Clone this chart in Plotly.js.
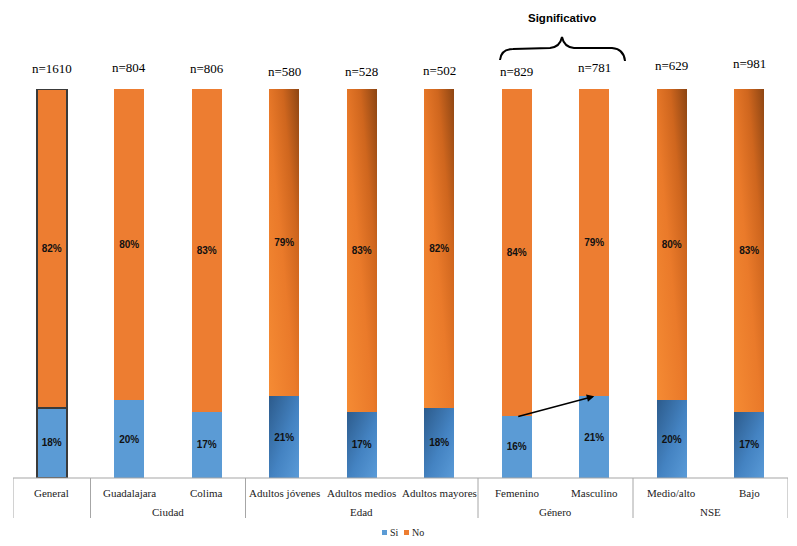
<!DOCTYPE html>
<html>
<head>
<meta charset="utf-8">
<script src="https://cdn.plot.ly/plotly-3.0.1.min.js"></script>
<style>
  html, body { margin: 0; padding: 0; background: #ffffff; }
  #chart { width: 797px; height: 546px; }
</style>
</head>
<body>
<div id="chart"></div>
<script>
// ---- Data ----
const categories = ['General', 'Guadalajara', 'Colima', 'Adultos jóvenes', 'Adultos medios',
                    'Adultos mayores', 'Femenino', 'Masculino', 'Medio/alto', 'Bajo'];
const siValues = [18, 20, 17, 21, 17, 18, 16, 21, 20, 17];
const noValues = [82, 80, 83, 79, 83, 82, 84, 79, 80, 83];
const nLabels = ['n=1610', 'n=804', 'n=806', 'n=580', 'n=528', 'n=502', 'n=829', 'n=781', 'n=629', 'n=981'];
const groupLabels = ['', 'Ciudad', 'Edad', 'Género', 'NSE'];
const groupSizes = [1, 2, 3, 2, 2];
const seriesNames = ['Si', 'No'];

// ---- Layout helpers (not data) ----
const W = 797, H = 546;
const M = { l: 13, r: 9, t: 89, b: 68, autoexpand: false };
const PW = W - M.l - M.r, PH = H - M.t - M.b;
const px = X => (X - M.l) / PW;          // pixel -> paper x
const py = Y => (H - M.b - Y) / PH;      // pixel -> paper y
const nLabelPixelY = [68, 67, 69, 71, 71, 70, 71, 67, 66, 64];
const shadedBars = [3, 4, 5, 8, 9];
const idx = categories.map((c, i) => i);

const BLUE = '#5B9BD5', ORANGE = '#ED7D31';
const borderW = idx.map(i => i === 0 ? 2 : 0);

const labelFont = { family: 'Liberation Sans, Arial, sans-serif', size: 10, color: '#111111', weight: 'bold' };

const traces = [
  {
    type: 'bar', name: seriesNames[0], x: idx, y: siValues,
    width: 0.39,
    marker: { color: BLUE, line: { color: '#3a3a3a', width: borderW } },
    text: siValues.map(v => v + '%'), textposition: 'inside', insidetextanchor: 'middle',
    textangle: 0, constraintext: 'none', textfont: labelFont, hoverinfo: 'skip'
  },
  {
    type: 'bar', name: seriesNames[1], x: idx, y: noValues,
    width: 0.39,
    marker: { color: ORANGE, line: { color: '#3a3a3a', width: borderW } },
    text: noValues.map(v => v + '%'), textposition: 'inside', insidetextanchor: 'middle',
    textangle: 0, constraintext: 'none', textfont: labelFont, hoverinfo: 'skip'
  }
];

const serif = 'Liberation Serif, Times New Roman, serif';
const annotations = [];
const shapes = [];

// n= labels
nLabels.forEach((t, i) => annotations.push({
  x: i, xref: 'x', y: py(nLabelPixelY[i]), yref: 'paper', text: t, showarrow: false,
  xanchor: 'center', yanchor: 'middle', font: { family: serif, size: 13, color: '#000' }
}));

// category labels
categories.forEach((c, i) => annotations.push({
  x: i, xref: 'x', y: py(493), yref: 'paper', text: c, showarrow: false,
  xanchor: 'center', yanchor: 'middle', font: { family: serif, size: 11, color: '#222' }
}));

// group labels & dividers
let start = -0.5;
shapes.push({ type: 'line', xref: 'x', yref: 'paper', x0: start, x1: start, y0: 0, y1: py(518),
              line: { color: '#A6A6A6', width: 1 } });
groupSizes.forEach((s, g) => {
  const end = start + s;
  if (groupLabels[g]) annotations.push({
    x: (start + end) / 2, xref: 'x', y: py(512), yref: 'paper', text: groupLabels[g], showarrow: false,
    xanchor: 'center', yanchor: 'middle', font: { family: serif, size: 11, color: '#222' }
  });
  shapes.push({ type: 'line', xref: 'x', yref: 'paper', x0: end, x1: end, y0: 0, y1: py(518),
                line: { color: '#A6A6A6', width: 1 } });
  start = end;
});
// axis line
shapes.push({ type: 'line', xref: 'paper', yref: 'paper', x0: 0, x1: 1, y0: 0, y1: 0,
              line: { color: '#A6A6A6', width: 1.2 } });

// custom legend (small squares as in the original)
const legendColors = [BLUE, ORANGE];
const legendX = [382, 404];
seriesNames.forEach((n, k) => {
  shapes.push({ type: 'rect', xref: 'paper', yref: 'paper',
    x0: px(legendX[k]), x1: px(legendX[k] + 5), y0: py(535), y1: py(530),
    fillcolor: legendColors[k], line: { width: 0 } });
  annotations.push({ x: px(legendX[k] + 6), xref: 'paper', y: py(532), yref: 'paper', text: n,
    showarrow: false, xanchor: 'left', yanchor: 'middle', font: { family: serif, size: 10, color: '#222' } });
});

// Significativo brace
const P = (X, Y) => px(X).toFixed(5) + ',' + py(Y).toFixed(5);
shapes.push({
  type: 'path', xref: 'paper', yref: 'paper',
  path: 'M' + P(500, 60) + ' Q' + P(501, 49) + ' ' + P(513, 49) +
        ' L' + P(550, 48) + ' Q' + P(560, 47) + ' ' + P(562, 37) +
        ' Q' + P(564, 47) + ' ' + P(574, 48) +
        ' L' + P(612, 48) + ' Q' + P(624, 49) + ' ' + P(625, 61),
  line: { color: '#000', width: 2 }
});
annotations.push({
  x: px(562), xref: 'paper', y: py(18), yref: 'paper', text: '<b>Significativo</b>', showarrow: false,
  xanchor: 'center', yanchor: 'middle', font: { family: 'Liberation Sans, Arial, sans-serif', size: 11.5, color: '#000' }
});

// arrow Femenino -> Masculino
annotations.push({
  x: 7, y: siValues[7], xref: 'x', yref: 'y', ax: 6, ay: siValues[6] - 0.3, axref: 'x', ayref: 'y',
  text: '', showarrow: true, arrowhead: 2, arrowsize: 1, arrowwidth: 1.5, arrowcolor: '#000', standoff: 0
});

const layout = {
  width: W, height: H, autosize: false,
  margin: M,
  paper_bgcolor: '#fff', plot_bgcolor: '#fff',
  barmode: 'stack',
  showlegend: false,
  xaxis: { range: [-0.5, 9.5], showticklabels: false, showgrid: false, zeroline: false,
           showline: false, ticks: '', fixedrange: true, automargin: false },
  yaxis: { range: [0, 100], visible: false, showgrid: false, zeroline: false, fixedrange: true, automargin: false },
  annotations: annotations,
  shapes: shapes
};

Plotly.newPlot('chart', traces, layout, { staticPlot: true, displayModeBar: false }).then(gd => {
  const svgNS = 'http://www.w3.org/2000/svg';
  const defs = gd.querySelector('svg.main-svg defs');
  function grad(id, x1, y1, x2, y2, stops) {
    const g = document.createElementNS(svgNS, 'linearGradient');
    g.setAttribute('id', id);
    g.setAttribute('x1', x1); g.setAttribute('y1', y1);
    g.setAttribute('x2', x2); g.setAttribute('y2', y2);
    stops.forEach(([o, c]) => {
      const s = document.createElementNS(svgNS, 'stop');
      s.setAttribute('offset', o); s.setAttribute('stop-color', c);
      g.appendChild(s);
    });
    defs.appendChild(g);
  }
  grad('gBlue', 0, 0, 1, 1, [[0, '#2C5B8C'], [0.55, '#4483C2'], [1, '#5A9BD8']]);
  grad('gOrange', 0, 1, 1, 0, [[0, '#F58B34'], [0.45, '#EA7A2A'], [0.72, '#CF661E'], [1, '#8C4513']]);
  const tr = gd.querySelectorAll('.barlayer .trace');
  const fills = ['url(#gBlue)', 'url(#gOrange)'];
  tr.forEach((t, ti) => {
    const paths = t.querySelectorAll('.point path');
    shadedBars.forEach(i => { if (paths[i]) paths[i].style.fill = fills[ti]; });
  });
});
</script>
</body>
</html>
